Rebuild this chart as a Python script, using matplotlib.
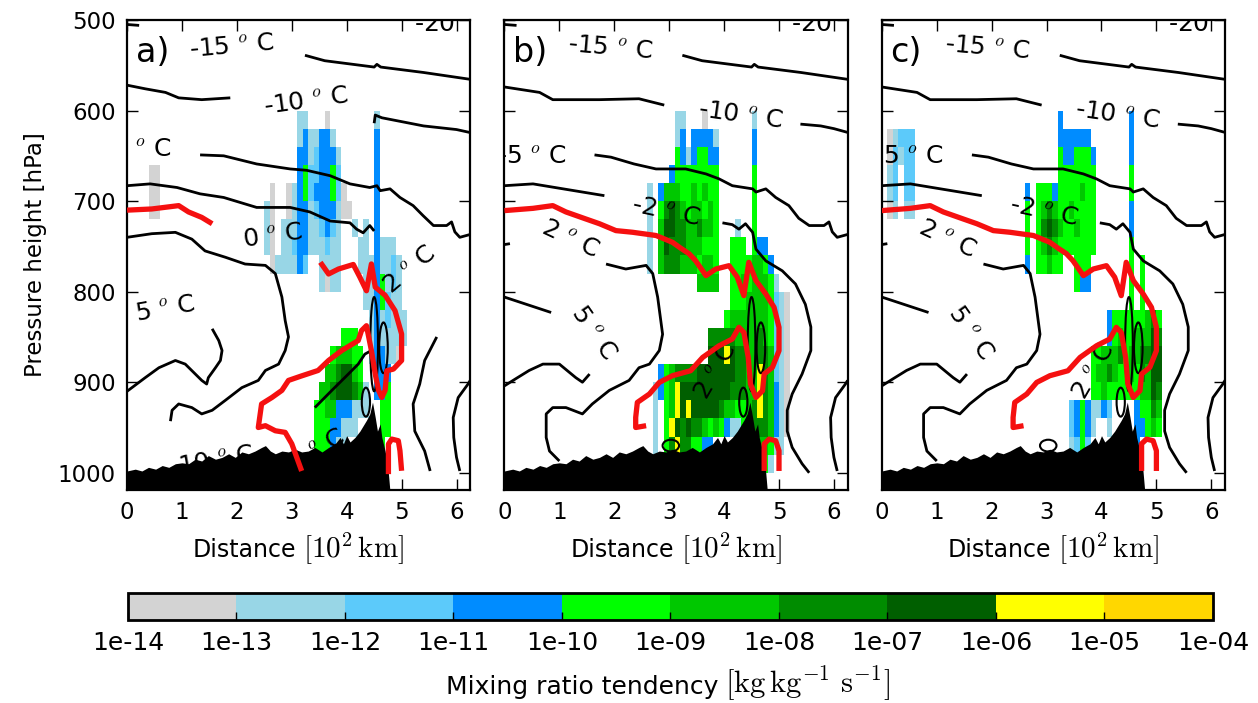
import numpy as np
import matplotlib
matplotlib.use('Agg')
import matplotlib.pyplot as plt
import matplotlib.cm as cm
from matplotlib.colors import ListedColormap, BoundaryNorm
from matplotlib.patches import Ellipse
from matplotlib.offsetbox import TextArea, HPacker, AnchoredOffsetbox

plt.rcParams['font.family'] = 'DejaVu Sans'
plt.rcParams['mathtext.fontset'] = 'cm'

# colour classes of the mixing ratio tendency (kg/kg/s)
TENDENCY_LABELS = ['1e-14', '1e-13', '1e-12', '1e-11', '1e-10', '1e-09',
                   '1e-08', '1e-07', '1e-06', '1e-05', '1e-04']
TENDENCY_COLORS = ['#d3d3d3', '#98d6e6', '#5ccafa', '#008cff', '#00ff00',
                   '#00c800', '#008c00', '#005f00', '#ffff00', '#ffd700']

# tendency class per cell: rows are 20 hPa bands from 600 hPa down,
# columns are 0.1 (x100 km) bins from 0 km; "col:classes", '.' = nothing
PATCH_A = [
    "31:11 36:0 45:1",
    "31:1311331 45:3",
    "31:33123331 45:3",
    "4:00 31:34223342 45:3",
    "4:00 26:0..01342333420 45:3",
    "4:00 25:10..013312333100 45:3",
    "25:10.11133112321..1.1.3",
    "25:10.11233111211...11.3111",
    "26:0111132..1111...11131121",
    "35:1011....1134121",
    "43:1134211",
    "44:1312111",
    "39:444..1311111",
    "37:455544.133110",
    "36:5567754..333",
    "35:556777651.334",
    "34:4455333111..44",
    "34:44433111....44",
    "34:444311......4",
    "34:44",
    "",
]
PATCH_B = [
    "31:11...0 45:1",
    "31:13.33331 45:3",
    "31:43134433 45:3",
    "30:344444444 45:4",
    "26:1.35554454544 45:4",
    "26:1.46765455454 45:4",
    "26:1.57766556554...1..4",
    "26:1.57666555444..444.433",
    "26:1.56665554554..44445543",
    "35:5555..445455541",
    "41:44455554210",
    "40:455555554210",
    "37:666665555654210",
    "37:777876655665210",
    "28:345666677777776655865210",
    "27:1345877777777766655865310",
    "27:1.45878777776554456865310",
    "27:1.48767665454311456665310",
    "27:1.468664433.......555411",
    "29:45554 45:4441",
    "",
]
PATCH_C = [
    "32:3 45:3",
    "1:01222 32:333333 45:3",
    "1:02122 32:4334443 45:3",
    "1:12.22 32:4444444 45:4",
    "1:12.22 26:3.44434444544 45:4",
    "1:01.11 26:4.45654454444 45:3",
    "26:4.46765445444 45:3",
    "26:4.45654444444 45:4",
    "26:3.44544..444 45:4.4",
    "35:433 45:4.4",
    "45:4.4",
    "41:3444444564",
    "41:3454455576",
    "38:4455564556677",
    "38:4556544546577",
    "38:4454444445576",
    "34:23431132....34465",
    "34:23431..1....33454",
    "34:1242........3",
    "35:11",
    "",
]

# surface pressure along the section (terrain)
TERRAIN_X = [0.0, 0.15, 0.27, 0.39, 0.52, 0.64, 0.76, 0.88, 1.0, 1.12, 1.24,
             1.36, 1.48, 1.61, 1.73, 1.85, 1.97, 2.09, 2.21, 2.33, 2.45, 2.52,
             2.61, 2.7, 2.82, 2.94, 3.06, 3.18, 3.3, 3.42, 3.55, 3.67, 3.79,
             3.88, 3.94, 4.0, 4.06, 4.15, 4.24, 4.3, 4.36, 4.42, 4.47, 4.52,
             4.56, 4.61, 4.64, 4.7, 4.75, 4.79]
TERRAIN_P = [998, 996, 998, 994, 996, 992, 994, 990, 989, 990, 985, 987, 981,
             985, 983, 979, 983, 977, 979, 976, 972, 970, 976, 979, 976, 977,
             974, 977, 976, 972, 977, 972, 968, 961, 968, 959, 966, 961, 954,
             948, 942, 935, 922, 939, 954, 946, 961, 976, 994, 1022]

# isotherms, (distance, pressure) pieces
ISO_M15 = [[(0.0, 505), (0.22, 506)],
           [(3.24, 539), (3.6, 545), (4.5, 552), (4.55, 549), (4.62, 552),
            (5.4, 558), (6.3, 566)]]
ISO_M10_A = [[(0.0, 572), (0.33, 576), (0.7, 580), (0.94, 586), (1.36, 588),
              (1.88, 586)],
             [(4.5, 614), (4.52, 605), (4.64, 608), (5.4, 617), (6.0, 621),
              (6.3, 625)]]
ISO_M10_B = [[(0.0, 574), (0.64, 580), (0.88, 588), (1.73, 588), (2.45, 587),
              (2.91, 594)],
             [(5.39, 615), (5.76, 617), (6.0, 620), (6.3, 625)]]
ISO_M5_A = [[(1.33, 649), (1.76, 650), (2.36, 659), (2.97, 664.5), (3.27, 666),
             (3.7, 672), (4.06, 681), (4.42, 685), (4.55, 683), (4.61, 688.5),
             (4.79, 686.5), (4.97, 696), (5.21, 705), (5.39, 716), (5.58, 727),
             (5.82, 727), (5.91, 723), (5.97, 734), (6.06, 740), (6.3, 736)]]
ISO_M5_B = [[(1.64, 649), (1.94, 651.5), (2.36, 659), (2.76, 664.5),
             (3.3, 664.5), (3.67, 670), (3.91, 675.5), (4.15, 683),
             (4.52, 686.5), (4.58, 690), (4.76, 686.5), (4.94, 696),
             (5.18, 705), (5.36, 719), (5.55, 727), (5.82, 727), (5.91, 723),
             (5.97, 734), (6.06, 740), (6.3, 736)]]
ISO_M2_A = [[(0.0, 683), (0.42, 681), (0.91, 685), (1.33, 692), (1.76, 696),
             (2.36, 707), (2.97, 707), (3.33, 712), (3.7, 722), (4.06, 724),
             (4.18, 731), (4.3, 735), (4.42, 727), (4.5, 733)],
            [(5.64, 850), (5.42, 876), (5.33, 902), (5.21, 924), (5.24, 954),
             (5.42, 976), (5.52, 998)]]
ISO_M2_B = [[(0.0, 683), (0.52, 681), (1.12, 687), (1.82, 694)],
            [(3.97, 724), (4.15, 726), (4.27, 731), (4.39, 725), (4.52, 734.5),
             (4.58, 753), (4.76, 766), (5.06, 777), (5.3, 791.5), (5.48, 814),
             (5.58, 839), (5.58, 865), (5.42, 891), (5.24, 913), (5.15, 931),
             (5.15, 954), (5.24, 972), (5.42, 990), (5.55, 1000)]]
ISO_P2_A = [[(0.0, 740), (0.45, 736), (0.88, 734.5), (1.18, 742), (1.42, 755),
             (1.79, 762), (2.15, 769.5), (2.52, 771), (2.7, 780), (2.82, 806),
             (2.88, 832), (2.94, 850), (2.88, 865), (2.76, 880), (2.52, 887),
             (2.39, 898), (2.09, 906), (1.79, 920), (1.55, 931), (1.36, 935),
             (1.18, 928), (0.94, 924), (0.82, 931), (0.79, 943)],
            [(3.42, 928), (3.73, 909), (3.97, 894.6), (4.21, 880), (4.33, 869),
             (4.45, 865)]]
ISO_P2_B = [[(0.0, 748), (0.1, 747)],
            [(1.85, 769.5), (2.21, 775), (2.58, 771), (2.7, 780), (2.79, 806),
             (2.88, 847), (2.82, 865), (2.64, 880), (2.45, 884), (2.27, 898),
             (1.91, 909), (1.6, 924), (1.42, 935), (1.12, 928), (0.88, 928),
             (0.76, 935), (0.76, 961), (0.82, 976), (1.0, 987)]]
ISO_P5_A = [[(1.55, 841), (1.67, 854), (1.73, 865), (1.7, 876), (1.61, 884),
             (1.48, 895), (1.45, 902), (1.36, 898), (1.06, 880), (0.88, 876),
             (0.58, 884), (0.33, 895), (0.0, 910)]]
ISO_P5_B = [[(0.0, 806), (0.85, 823)],
            [(1.55, 891), (1.42, 900), (1.3, 895), (1.0, 880), (0.7, 880),
             (0.45, 887), (0.21, 896), (0.0, 904)]]
ISO_EAST = [[(6.25, 898), (6.21, 902), (6.03, 917), (5.94, 939), (5.95, 961),
             (6.0, 983), (6.06, 998)]]
# closed isotherm cells near the ridge: centre x, centre p, half width, half height
CELLS = [(4.5, 858, 0.07, 52), (4.67, 862, 0.078, 28), (4.35, 922, 0.075, 16)]
CELLS_BC = [(3.03, 970, 0.15, 6.5)]

# red line (melting level of the run), pieces
RED_A = [[(0.0, 710), (0.45, 708.7), (0.94, 705), (1.12, 712), (1.36, 718),
          (1.55, 725)],
         [(3.52, 767.6), (3.67, 780.5), (3.85, 775), (4.12, 770), (4.24, 784),
          (4.36, 799), (4.45, 769.4), (4.52, 795), (4.7, 804), (4.88, 821),
          (5.0, 846.8), (5.0, 876), (4.85, 885.5), (4.73, 887.3), (4.7, 909),
          (4.64, 916.8), (4.58, 909), (4.52, 891), (4.45, 865), (4.36, 837.6),
          (4.27, 843), (4.21, 854), (3.91, 865), (3.67, 876), (3.48, 887),
          (3.18, 893), (2.94, 898), (2.82, 909), (2.64, 916.8), (2.45, 924),
          (2.39, 950), (2.52, 948), (2.7, 953.6), (2.88, 955.4), (3.0, 968),
          (3.09, 983), (3.18, 998)],
         [(4.76, 1001.5), (4.76, 968.3), (4.82, 962.8), (4.94, 964.6),
          (4.97, 975.7), (5.0, 997.8)]]
RED_B = [[(0.0, 710.5), (0.52, 708), (0.88, 705), (1.12, 712), (1.48, 719.7),
          (1.73, 725), (2.03, 732.6), (2.33, 734.4), (2.76, 738), (3.06, 745.5),
          (3.21, 752), (3.36, 758), (3.48, 765.8), (3.67, 782.3), (3.85, 775),
          (4.09, 771.3), (4.24, 784), (4.36, 804.4), (4.45, 767.6),
          (4.58, 787.8), (4.76, 802.6), (4.91, 817.3), (5.0, 839.4),
          (5.0, 865.2), (4.88, 883.6), (4.73, 891), (4.7, 909.4),
          (4.58, 916.8), (4.48, 902), (4.44, 872.6), (4.36, 845), (4.27, 839.4),
          (4.15, 852.3), (3.91, 859.7), (3.61, 872.6), (3.39, 887.3),
          (3.06, 892.8), (2.82, 900.2), (2.64, 913), (2.42, 922.3),
          (2.39, 938.9), (2.39, 950), (2.58, 948)],
         [(4.73, 998), (4.73, 968), (4.82, 962.8), (4.94, 964.6), (5.0, 975.7),
          (5.0, 998)]]

# isotherm labels: text, x, p, rotation, horizontal anchor
LABELS_A = [("-15", 1.92, 529, 5, 'center'), ("-20", 5.22, 505, 0, 'left'),
            ("-10", 3.27, 590, 8, 'center'), ("-5", 0.82, 643, 0, 'right'),
            ("0", 2.65, 738, 8, 'center'), ("2", 5.15, 775, 40, 'center'),
            ("5", 0.7, 819, 10, 'center'), ("10", 1.62, 986, 10, 'center'),
            ("2", 3.45, 975, 30, 'center')]
LABELS_B = [("-15", 1.93, 531, -5, 'center'), ("-20", 5.22, 505, 0, 'left'),
            ("-10", 4.3, 605, -8, 'center'), ("-5", 1.14, 650, 0, 'right'),
            ("-2", 2.95, 711, -12, 'center'), ("2", 1.2, 742, -25, 'center'),
            ("5", 1.62, 845, -55, 'center'), ("2", 3.85, 888, 60, 'center')]

PANELS = [
    ("a)", PATCH_A, ISO_M15 + ISO_M10_A + ISO_M5_A + ISO_M2_A + ISO_P2_A + ISO_P5_A + ISO_EAST,
     CELLS, RED_A, LABELS_A),
    ("b)", PATCH_B, ISO_M15 + ISO_M10_B + ISO_M5_B + ISO_M2_B + ISO_P2_B + ISO_P5_B + ISO_EAST,
     CELLS + CELLS_BC, RED_B, LABELS_B),
    ("c)", PATCH_C, ISO_M15 + ISO_M10_B + ISO_M5_B + ISO_M2_B + ISO_P2_B + ISO_P5_B + ISO_EAST,
     CELLS + CELLS_BC, RED_B, LABELS_B),
]


def parse_grid(rows, ncol=54):
    g = np.full((len(rows), ncol), np.nan)
    for j, row in enumerate(rows):
        for seg in row.split():
            c, d = seg.split(':')
            for k, ch in enumerate(d):
                if ch != '.':
                    g[j, int(c) + k] = int(ch)
    return np.ma.masked_invalid(g)


def mixed_label(fig, ax, words, math, y, tsize, msize):
    # sans words followed by a larger serif math part, centred under ax
    box = HPacker(children=[TextArea(words, textprops=dict(size=tsize)),
                            TextArea(math, textprops=dict(size=msize))],
                  align='baseline', pad=0, sep=5)
    ab = AnchoredOffsetbox(loc='upper center', child=box, pad=0, frameon=False,
                           bbox_to_anchor=(0.5, y), bbox_transform=ax.transAxes,
                           borderpad=0)
    fig.add_artist(ab)


cmap = ListedColormap(TENDENCY_COLORS)
norm = BoundaryNorm(np.arange(-0.5, 10.5, 1), cmap.N)
x_edges = np.linspace(0, 5.4, 55)
p_edges = np.linspace(600, 1020, 22)

fig = plt.figure(figsize=(12.58, 7.03), dpi=100)
lefts = [0.101, 0.401, 0.701]

for i, (tag, patch, lines, cells, red, labels) in enumerate(PANELS):
    ax = fig.add_axes([lefts[i], 0.303, 0.2728, 0.6686])
    ax.pcolormesh(x_edges, p_edges, parse_grid(patch), cmap=cmap, norm=norm,
                  shading='flat', zorder=1)
    for ln in lines:
        xs, ps = zip(*ln)
        ax.plot(xs, ps, color='k', lw=2, zorder=2, solid_capstyle='butt')
    for (xc, pc, hw, hh) in cells:
        ax.add_patch(Ellipse((xc, pc), 2 * hw, 2 * hh, fill=False, ec='k',
                             lw=1.5, zorder=2))
    for (t, x, p, r, ha) in labels:
        ax.text(x, p, t + r' $^o$ C', rotation=r, ha=ha, va='center',
                fontsize=18, zorder=3, clip_on=True)
    ax.fill_between(TERRAIN_X, TERRAIN_P, 1030, color='k', lw=0, zorder=4)
    for ln in red:
        xs, ps = zip(*ln)
        ax.plot(xs, ps, color='#f51010', lw=3.8, zorder=5,
                solid_joinstyle='round', solid_capstyle='butt')
    ax.text(0.025, 0.965, tag, transform=ax.transAxes, fontsize=24,
            ha='left', va='top', zorder=6)

    ax.set_xlim(0, 6.25)
    ax.set_ylim(1019, 500)
    ax.set_xticks(range(7))
    ax.set_yticks(range(500, 1001, 100))
    ax.tick_params(direction='in', length=8, width=1, top=True, right=True,
                   labelsize=16.5, pad=8)
    if i == 0:
        ax.set_ylabel('Pressure height [hPa]', fontsize=16.5, labelpad=8)
    else:
        ax.tick_params(labelleft=False)
    mixed_label(fig, ax, 'Distance', r'$[10^2\,\mathrm{km}]$', -0.085, 17, 21)
    for s in ax.spines.values():
        s.set_linewidth(1.6)

cax = fig.add_axes([0.1017, 0.118, 0.8625, 0.0384])
sm = cm.ScalarMappable(cmap=cmap, norm=norm)
cb = fig.colorbar(sm, cax=cax, orientation='horizontal',
                  ticks=np.arange(-0.5, 10, 1))
cb.set_ticklabels(TENDENCY_LABELS)
cb.outline.set_linewidth(2)
cb.ax.tick_params(direction='in', length=6, width=1, labelsize=18, pad=8)

# colourbar title: sans words and a larger serif unit, sharing one baseline
fig.text(0.571, 0.0135, 'Mixing ratio tendency', fontsize=18,
         ha='right', va='baseline')
fig.text(0.576, 0.0135, r'$[\mathrm{kg\,kg^{-1}\ s^{-1}}]$', fontsize=22,
         ha='left', va='baseline')

fig.savefig('out.png', dpi=100)
